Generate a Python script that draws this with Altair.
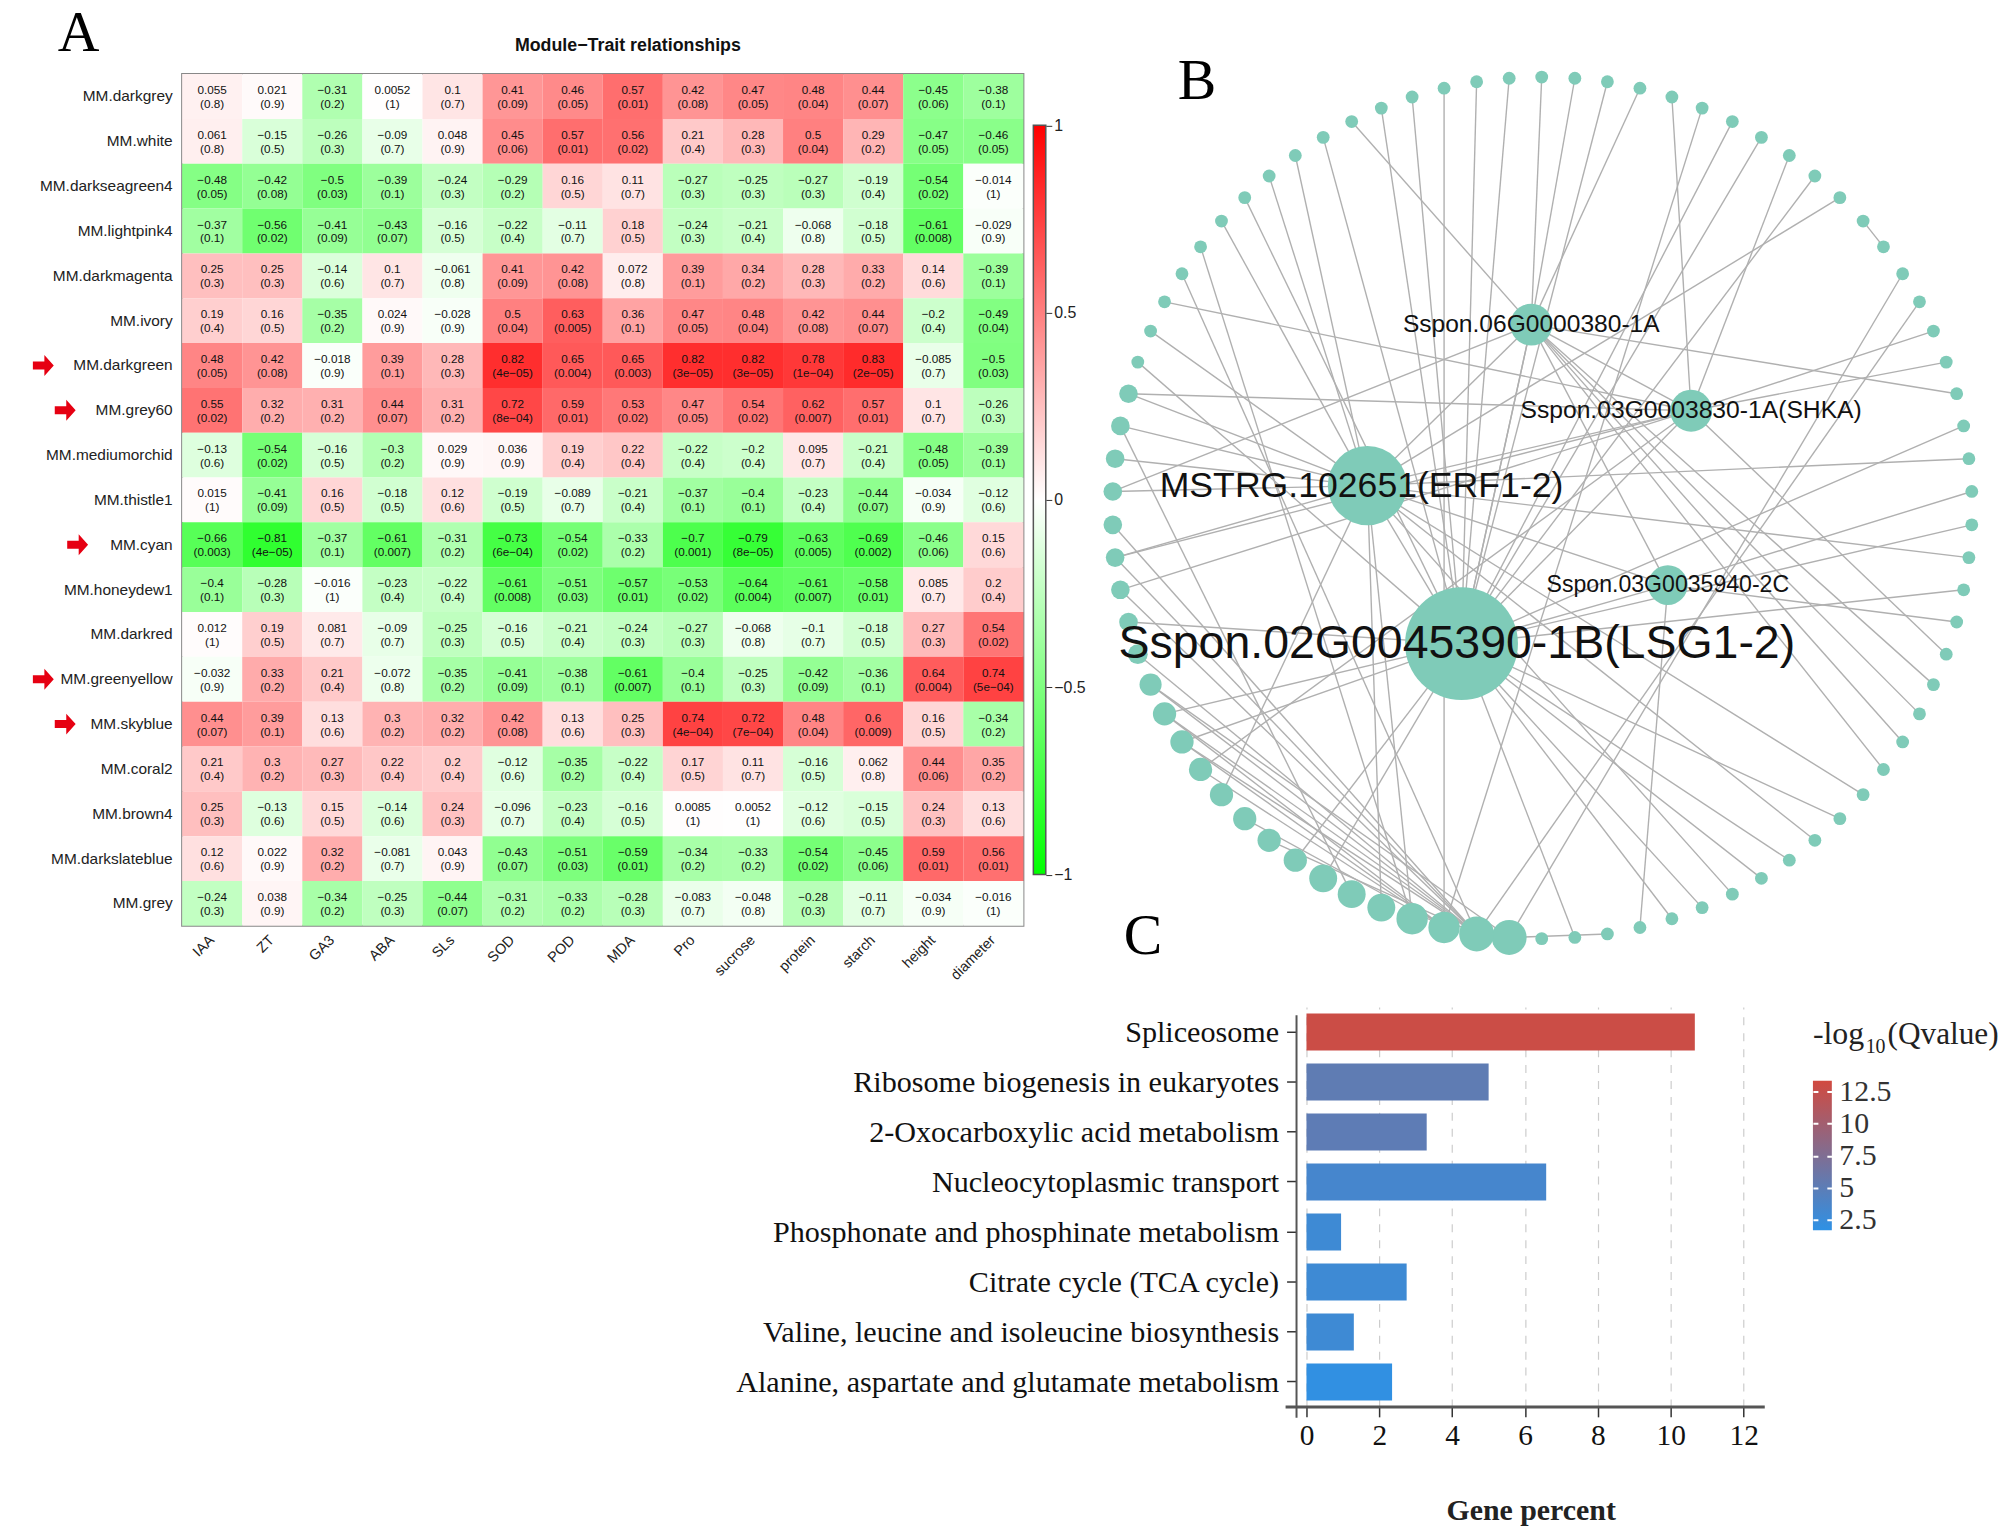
import math
import altair as alt
import pandas as pd

# ---------- Panel A ----------
modules = ["MM.darkgrey","MM.white","MM.darkseagreen4","MM.lightpink4","MM.darkmagenta","MM.ivory","MM.darkgreen","MM.grey60","MM.mediumorchid","MM.thistle1","MM.cyan","MM.honeydew1","MM.darkred","MM.greenyellow","MM.skyblue","MM.coral2","MM.brown4","MM.darkslateblue","MM.grey"]
traits = ["IAA","ZT","GA3","ABA","SLs","SOD","POD","MDA","Pro","sucrose","protein","starch","height","diameter"]
corr = [
"0.055 0.021 -0.31 0.0052 0.1 0.41 0.46 0.57 0.42 0.47 0.48 0.44 -0.45 -0.38",
"0.061 -0.15 -0.26 -0.09 0.048 0.45 0.57 0.56 0.21 0.28 0.5 0.29 -0.47 -0.46",
"-0.48 -0.42 -0.5 -0.39 -0.24 -0.29 0.16 0.11 -0.27 -0.25 -0.27 -0.19 -0.54 -0.014",
"-0.37 -0.56 -0.41 -0.43 -0.16 -0.22 -0.11 0.18 -0.24 -0.21 -0.068 -0.18 -0.61 -0.029",
"0.25 0.25 -0.14 0.1 -0.061 0.41 0.42 0.072 0.39 0.34 0.28 0.33 0.14 -0.39",
"0.19 0.16 -0.35 0.024 -0.028 0.5 0.63 0.36 0.47 0.48 0.42 0.44 -0.2 -0.49",
"0.48 0.42 -0.018 0.39 0.28 0.82 0.65 0.65 0.82 0.82 0.78 0.83 -0.085 -0.5",
"0.55 0.32 0.31 0.44 0.31 0.72 0.59 0.53 0.47 0.54 0.62 0.57 0.1 -0.26",
"-0.13 -0.54 -0.16 -0.3 0.029 0.036 0.19 0.22 -0.22 -0.2 0.095 -0.21 -0.48 -0.39",
"0.015 -0.41 0.16 -0.18 0.12 -0.19 -0.089 -0.21 -0.37 -0.4 -0.23 -0.44 -0.034 -0.12",
"-0.66 -0.81 -0.37 -0.61 -0.31 -0.73 -0.54 -0.33 -0.7 -0.79 -0.63 -0.69 -0.46 0.15",
"-0.4 -0.28 -0.016 -0.23 -0.22 -0.61 -0.51 -0.57 -0.53 -0.64 -0.61 -0.58 0.085 0.2",
"0.012 0.19 0.081 -0.09 -0.25 -0.16 -0.21 -0.24 -0.27 -0.068 -0.1 -0.18 0.27 0.54",
"-0.032 0.33 0.21 -0.072 -0.35 -0.41 -0.38 -0.61 -0.4 -0.25 -0.42 -0.36 0.64 0.74",
"0.44 0.39 0.13 0.3 0.32 0.42 0.13 0.25 0.74 0.72 0.48 0.6 0.16 -0.34",
"0.21 0.3 0.27 0.22 0.2 -0.12 -0.35 -0.22 0.17 0.11 -0.16 0.062 0.44 0.35",
"0.25 -0.13 0.15 -0.14 0.24 -0.096 -0.23 -0.16 0.0085 0.0052 -0.12 -0.15 0.24 0.13",
"0.12 0.022 0.32 -0.081 0.043 -0.43 -0.51 -0.59 -0.34 -0.33 -0.54 -0.45 0.59 0.56",
"-0.24 0.038 -0.34 -0.25 -0.44 -0.31 -0.33 -0.28 -0.083 -0.048 -0.28 -0.11 -0.034 -0.016",
]
pvals = [
"0.8 0.9 0.2 1 0.7 0.09 0.05 0.01 0.08 0.05 0.04 0.07 0.06 0.1",
"0.8 0.5 0.3 0.7 0.9 0.06 0.01 0.02 0.4 0.3 0.04 0.2 0.05 0.05",
"0.05 0.08 0.03 0.1 0.3 0.2 0.5 0.7 0.3 0.3 0.3 0.4 0.02 1",
"0.1 0.02 0.09 0.07 0.5 0.4 0.7 0.5 0.3 0.4 0.8 0.5 0.008 0.9",
"0.3 0.3 0.6 0.7 0.8 0.09 0.08 0.8 0.1 0.2 0.3 0.2 0.6 0.1",
"0.4 0.5 0.2 0.9 0.9 0.04 0.005 0.1 0.05 0.04 0.08 0.07 0.4 0.04",
"0.05 0.08 0.9 0.1 0.3 4e-05 0.004 0.003 3e-05 3e-05 1e-04 2e-05 0.7 0.03",
"0.02 0.2 0.2 0.07 0.2 8e-04 0.01 0.02 0.05 0.02 0.007 0.01 0.7 0.3",
"0.6 0.02 0.5 0.2 0.9 0.9 0.4 0.4 0.4 0.4 0.7 0.4 0.05 0.1",
"1 0.09 0.5 0.5 0.6 0.5 0.7 0.4 0.1 0.1 0.4 0.07 0.9 0.6",
"0.003 4e-05 0.1 0.007 0.2 6e-04 0.02 0.2 0.001 8e-05 0.005 0.002 0.06 0.6",
"0.1 0.3 1 0.4 0.4 0.008 0.03 0.01 0.02 0.004 0.007 0.01 0.7 0.4",
"1 0.5 0.7 0.7 0.3 0.5 0.4 0.3 0.3 0.8 0.7 0.5 0.3 0.02",
"0.9 0.2 0.4 0.8 0.2 0.09 0.1 0.007 0.1 0.3 0.09 0.1 0.004 5e-04",
"0.07 0.1 0.6 0.2 0.2 0.08 0.6 0.3 4e-04 7e-04 0.04 0.009 0.5 0.2",
"0.4 0.2 0.3 0.4 0.4 0.6 0.2 0.4 0.5 0.7 0.5 0.8 0.06 0.2",
"0.3 0.6 0.5 0.6 0.3 0.7 0.4 0.5 1 1 0.6 0.5 0.3 0.6",
"0.6 0.9 0.2 0.7 0.9 0.07 0.03 0.01 0.2 0.2 0.02 0.06 0.01 0.01",
"0.3 0.9 0.2 0.3 0.07 0.2 0.2 0.3 0.7 0.8 0.3 0.7 0.9 1",
]
arrow_rows = ["MM.darkgreen","MM.grey60","MM.cyan","MM.greenyellow","MM.skyblue"]
arrow_x = [-139.5,-117.5,-105,-139.5,-117.5]
colorbar_ticks = [-1,-0.5,0,0.5,1]

# ---------- Panel B ----------
node_x = [717,773,830,886,942,997,1049,1101,1151,1199,1243,1286,1326,1361,1394,1423,1447,1469,1487,1499,1508,1513,1513,1508,1499,1487,1469,1447,1423,1394,1361,1326,1286,1243,1199,1151,1101,1049,997,942,886,830,773,717,661,605,550,497,446,397,349,304,262,222,186,154,124,100,78,62,48,39,35,35,39,48,62,78,100,124,154,186,222,262,304,349,397,446,497,550,605,661]
node_y = [59,57,59,65,76,91,110,133,160,191,226,263,303,347,393,441,491,544,598,653,709,765,822,878,933,988,1043,1095,1145,1193,1240,1283,1324,1361,1395,1426,1453,1476,1495,1510,1521,1527,1529,1527,1521,1510,1495,1476,1453,1426,1395,1361,1324,1283,1240,1193,1145,1095,1043,988,933,878,822,765,709,653,598,544,491,441,393,347,303,263,226,191,160,133,110,91,76,65]
node_r = [11]*43+[30,30,27,27,24,24,24,20,20,20,20,20,20,20,19,17,16,16,16,16,16,16,16,16]+[11]*15
hub_x = [635,473,755,1030,990]
hub_y = [1025,755,480,627,925]
hub_r = [97,68,36,36,34]
hub_names = ["Sspon.02G0045390-1B(LSG1-2)","MSTRG.102651(ERF1-2)","Sspon.06G0000380-1A","Sspon.03G0003830-1A(SHKA)","Sspon.03G0035940-2C"]
label_x = [627,463,755,1030,990]
label_font = [46.7,35.8,24.7,24.8,23.2]
# edges: hub -> ring-node index
to_L = [0,81,79,78,76,73,67,3,7,8,10,19,22,24,32,34,35,37,38,41,59,55,56,49,50]
to_E = [75,74,72,68,66,65,64,63,11,20,23,31,33,36,53,46,47,61]
to_06 = [1,2,4,77,18,63,27,28,29,30]
to_38 = [5,9,16,17,26,69,66,60,61,54]
to_35 = [39,25,21]
ring_a = [12,40,80,6,71,70,14,15,65,62,61,60,58,57,56,55,57,56,55,54,52,51]
ring_b = [13,43,45,45,46,44,43,44,48,44,44,44,44,44,44,44,43,45,45,45,45,44]
hub_a = [0,0,0,0,0,1,1,1,2,2]
hub_b = [1,2,3,4,2,4,2,3,3,4]

# ---------- Panel C ----------
pathways = ["Spliceosome","Ribosome biogenesis in eukaryotes","2-Oxocarboxylic acid metabolism","Nucleocytoplasmic transport","Phosphonate and phosphinate metabolism","Citrate cycle (TCA cycle)","Valine, leucine and isoleucine biosynthesis","Alanine, aspartate and glutamate metabolism"]
gene_percent = [10.66,5.0,3.3,6.58,0.95,2.75,1.3,2.35]
qvalue = [12.9,5.2,5.1,3.4,2.85,2.85,2.85,1.9]
q_ticks = [2.5,5,7.5,10,12.5]
q_low, q_high = 1.67, 13.36
BLUE, RED = "#2e91e5", "#d14a40"

SANS = "Liberation Sans"
SERIF = "Liberation Serif"
RGB = "rgb"

# ---- A: heatmap
rows = []
for m, cr, pr in zip(modules, corr, pvals):
    for t, c, p in zip(traits, cr.split(), pr.split()):
        rows.append(dict(module=m, trait=t, value=float(c), top=c.replace("-", "\u2212"), bottom="(" + p.replace("-", "\u2212") + ")"))
heat_df = pd.DataFrame(rows)
xs = alt.X("trait:N", sort=traits, scale=alt.Scale(paddingInner=0, paddingOuter=0, round=False),
           axis=alt.Axis(title=None, labelAngle=-45, labelAlign="right", labelBaseline="middle", labelFont=SANS, labelFontSize=14.5, labelColor="#222", labelPadding=12, ticks=False, domain=False))
ys = alt.Y("module:N", sort=modules, scale=alt.Scale(paddingInner=0, paddingOuter=0, round=False),
           axis=alt.Axis(title=None, labelFont=SANS, labelFontSize=15.5, labelColor="#222", labelPadding=10, ticks=False, domain=False, labelLimit=300))
cells = alt.Chart(heat_df).mark_rect().encode(
    x=xs, y=ys,
    color=alt.Color("value:Q", legend=None, scale=alt.Scale(domain=[-1, 0, 1], range=["#00ff00", "#ffffff", "#ff0000"], interpolate=RGB)))
t1 = alt.Chart(heat_df).mark_text(font=SANS, fontSize=11.8, dy=-6.5, color="#111").encode(x=xs, y=ys, text="top:N")
t2 = alt.Chart(heat_df).mark_text(font=SANS, fontSize=11.8, dy=7.5, color="#111").encode(x=xs, y=ys, text="bottom:N")
arrows = alt.Chart(pd.DataFrame(dict(module=arrow_rows, ax=arrow_x))).mark_point(
    shape="M-1,-0.38 L0.1,-0.38 L0.1,-1 L1,0 L0.1,1 L0.1,0.38 L-1,0.38 Z", filled=True, color="#e60012", opacity=1, size=441, clip=False
).encode(x=alt.X("ax:Q", scale=None), y=ys)
title_a = alt.Chart(pd.DataFrame(dict(t=["Module\u2212Trait relationships"]))).mark_text(font=SANS, fontWeight="bold", fontSize=17.9, color="#111").encode(
    x=alt.value(448), y=alt.value(-28), text="t:N")
letter_a = alt.Chart(pd.DataFrame(dict(t=["A"]))).mark_text(font=SERIF, fontSize=58, color="#000", baseline="alphabetic").encode(
    x=alt.value(-104), y=alt.value(-23.5), text="t:N")
heat = alt.layer(cells, t1, t2, arrows, title_a, letter_a).properties(
    width=845.5, height=856, view=alt.ViewBackground(stroke="#888888", strokeWidth=2))

# colorbar
cb_grad = alt.LinearGradient(gradient="linear", x1=0, x2=0, y1=1, y2=0, stops=[
    alt.GradientStop(color="#00ff00", offset=0), alt.GradientStop(color="#ffffff", offset=0.5), alt.GradientStop(color="#ff0000", offset=1)])
colorbar = alt.Chart(pd.DataFrame(dict(lo=[-1], hi=[1]))).mark_rect(fill=cb_grad, stroke="#555555", strokeWidth=1.5).encode(
    x=alt.value(0), x2=alt.value(12.5),
    y=alt.Y("lo:Q", scale=alt.Scale(domain=[-1, 1], range=[804.5, 51.5]), axis=alt.Axis(title=None, orient="right", values=colorbar_ticks, format=".2~g", domain=False, grid=False, tickColor="#333", tickSize=6, labelFont=SANS, labelFontSize=16, labelColor="#222", labelPadding=2)),
    y2="hi:Q").properties(width=12.5, height=856)

# ---- B: network
nodes = pd.DataFrame(dict(nx=node_x + hub_x, ny=node_y + hub_y, r=node_r + hub_r))
nodes["area"] = 4 * (nodes["r"] / 1.71) ** 2
ex = alt.Scale(domain=[-63.2, 1546.1])
ey = alt.Scale(domain=[1547.9, 51.9])
edge_rows = []
for h, lst in enumerate([to_L, to_E, to_06, to_38, to_35]):
    for n in lst:
        edge_rows.append(dict(x0=hub_x[h], y0=hub_y[h], x1=node_x[n], y1=node_y[n]))
for a, b in zip(ring_a, ring_b):
    edge_rows.append(dict(x0=node_x[a], y0=node_y[a], x1=node_x[b], y1=node_y[b]))
for a, b in zip(hub_a, hub_b):
    edge_rows.append(dict(x0=hub_x[a], y0=hub_y[a], x1=hub_x[b], y1=hub_y[b]))
edges = alt.Chart(pd.DataFrame(edge_rows)).mark_rule(color="#b0b0b0", strokeWidth=1.4).encode(
    x=alt.X("x0:Q", scale=ex, axis=None), x2="x1:Q",
    y=alt.Y("y0:Q", scale=ey, axis=None), y2="y1:Q")
dots = alt.Chart(nodes).mark_circle(color="#7fcbb8", opacity=1).encode(
    x=alt.X("nx:Q", scale=ex, axis=None), y=alt.Y("ny:Q", scale=ey, axis=None),
    size=alt.Size("area:Q", scale=None, legend=None))
lab_df = pd.DataFrame(dict(lx=label_x, ly=hub_y, name=hub_names, fs=label_font))
labs = alt.layer(*[
    alt.Chart(lab_df[lab_df.name == n]).mark_text(font=SANS, fontSize=float(fs), color="#111").encode(
        x=alt.X("lx:Q", scale=ex, axis=None), y=alt.Y("ly:Q", scale=ey, axis=None), text="name:N")
    for n, fs in zip(hub_names, label_font)])
let_df = pd.DataFrame(dict(lx=[180, 87], ly=[95, 1555], t=["B", "C"]))
letters = alt.Chart(let_df).mark_text(font=SERIF, fontSize=58, color="#000", baseline="alphabetic").encode(
    x=alt.X("lx:Q", scale=ex, axis=None), y=alt.Y("ly:Q", scale=ey, axis=None), text="t:N")
net = alt.layer(edges, dots, labs, letters).properties(width=940, height=880)

# ---- C: bars
bar_df = pd.DataFrame(dict(path=pathways, pct=gene_percent, q=qvalue))
bars = alt.Chart(bar_df).mark_bar().encode(
    x=alt.X("pct:Q", scale=alt.Scale(domain=[-0.273, 12.58], nice=False, zero=False),
            axis=alt.Axis(title="Gene percent", values=list(range(0, 13, 2)), grid=True, gridDash=[8, 8], gridColor="#cccccc", gridWidth=1.2,
                          domain=False, tickColor="#333333", tickSize=10, tickWidth=1.5,
                          labelFont=SERIF, labelFontSize=29.5, labelColor="#111", labelPadding=5,
                          titleFont=SERIF, titleFontSize=30, titleFontWeight="bold", titleColor="#222", titlePadding=46)),
    y=alt.Y("path:N", sort=pathways, scale=alt.Scale(paddingInner=0.26, paddingOuter=0.13, round=False),
            axis=alt.Axis(title=None, domain=False, tickColor="#333333", tickSize=10, tickWidth=1.5, labelOffset=1,
                          labelFont=SERIF, labelFontSize=30.3, labelColor="#111", labelPadding=8, labelLimit=800)),
    color=alt.Color("q:Q", legend=None, scale=alt.Scale(domain=[q_low, q_high], range=[BLUE, RED], interpolate=RGB)),
)
one = pd.DataFrame(dict(v=[0]))
rule_y = alt.Chart(one).mark_rule(color="#555555", strokeWidth=2).encode(x=alt.value(0), y=alt.value(8.5), y2=alt.value(413))
rule_x = alt.Chart(one).mark_rule(color="#555555", strokeWidth=3).encode(x=alt.value(-11), x2=alt.value(470.6), y=alt.value(402))
bar_panel = alt.layer(bars, rule_y, rule_x).properties(width=470.6, height=402)

q_grad = alt.LinearGradient(gradient="linear", x1=0, x2=0, y1=1, y2=0, stops=[
    alt.GradientStop(color=BLUE, offset=0), alt.GradientStop(color=RED, offset=1)])
q_bar = alt.Chart(pd.DataFrame(dict(lo=[q_low], hi=[q_high]))).mark_rect(fill=q_grad).encode(
    x=alt.value(0), x2=alt.value(19),
    y=alt.Y("lo:Q", scale=alt.Scale(domain=[q_low, q_high], range=[224.5, 74.2]),
            axis=alt.Axis(title=None, orient="right", offset=-19, values=q_ticks, format=".3~g", domain=False, grid=False, zindex=1,
                          tickColor="#ffffff", tickSize=19, tickWidth=2, tickDash=[5, 9, 5],
                          labelFont=SERIF, labelFontSize=30, labelColor="#333", labelPadding=7)),
    y2="hi:Q")
def q_text(txt, px, py, fs):
    return alt.Chart(pd.DataFrame(dict(t=[txt]))).mark_text(font=SERIF, fontSize=fs, color="#222", align="left", baseline="alphabetic").encode(
        x=alt.value(px), y=alt.value(py), text="t:N")
q_panel = alt.layer(q_bar, q_text("-log", 0, 37, 32), q_text("10", 53, 46.5, 20), q_text("(Qvalue)", 75, 37, 31.4)).properties(width=19, height=402)

spacer = alt.Chart(one).mark_point(opacity=0).encode(x=alt.value(0), y=alt.value(0)).properties(width=1071.5, height=402)

row1 = alt.hconcat(heat, colorbar, net, spacing=9.5, bounds="flush")
row2 = alt.hconcat(spacer, bar_panel, q_panel, spacing=48, bounds="flush")
chart = alt.vconcat(row1, row2, spacing=937.5, bounds="flush").resolve_scale(color="independent").properties(
    padding={"left": 175, "top": 62.5, "right": 1825, "bottom": 1500},
    autosize=alt.AutoSizeParams(type="none"),
    background="white",
).configure_view(stroke=None)

chart.save("out.html", embed_options={"renderer": "svg", "actions": False})
